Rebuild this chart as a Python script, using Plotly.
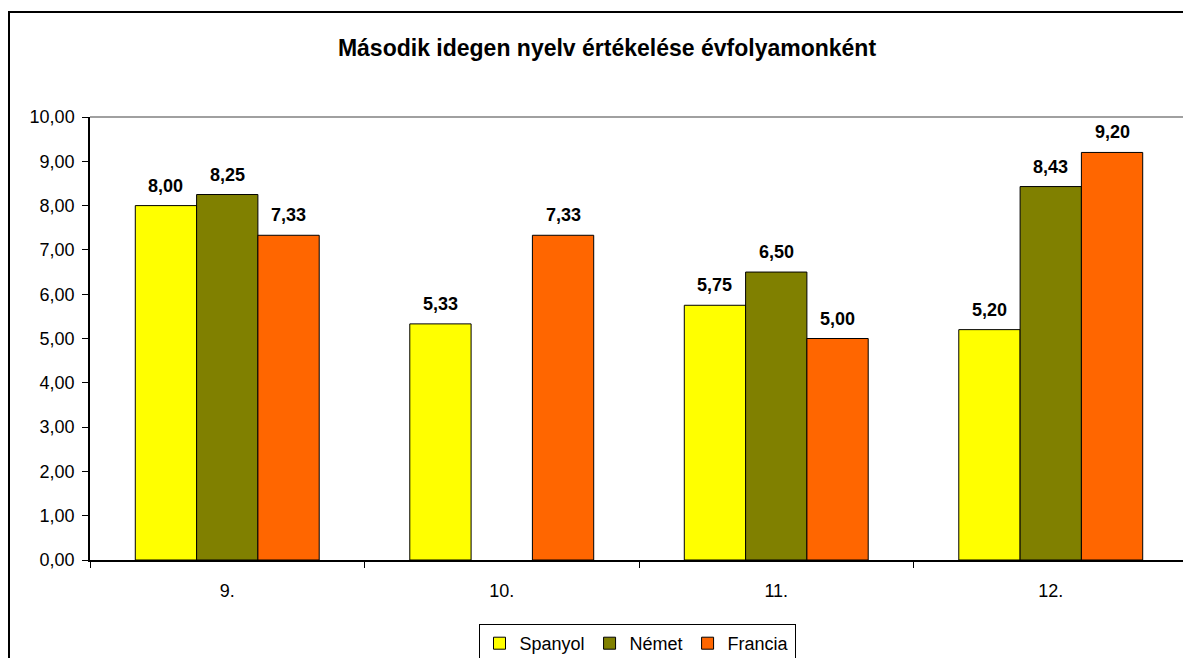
import plotly.graph_objects as go

categories = ['9.', '10.', '11.', '12.']
spanyol = [8.00, 5.33, 5.75, 5.20]
nemet = [8.25, None, 6.50, 8.43]
francia = [7.33, 7.33, 5.00, 9.20]
y_ticks = [0, 1, 2, 3, 4, 5, 6, 7, 8, 9, 10]

FONT = 'Liberation Sans, Arial, sans-serif'
W, H = 1191, 658
OFF = 8  # page body margin
L, R, T, B = 90, 1188, 117, 560  # plot area in page pixels
BARGAP = 0.33

pw, ph = R - L, B - T
barPx = pw / len(categories) * (1 - BARGAP) / 3


def px(x):
    return (x - L) / pw


def py(y):
    return (B - y) / ph


fig = go.Figure()
series = [('Spanyol', spanyol, '#FFFF00'), ('Német', nemet, '#808000'), ('Francia', francia, '#FF6600')]
for i, (name, values, color) in enumerate(series):
    fig.add_trace(go.Bar(
        x=categories, y=values, name=name,
        marker=dict(color=color, line=dict(color='black', width=1)),
    ))
    # data labels; category names look numeric, so place by category index
    for j, v in enumerate(values):
        if v is None:
            continue
        fig.add_annotation(x=j, y=v, text=f'{v:.2f}'.replace('.', ','), showarrow=False,
                           xshift=(i - 1) * barPx, yshift=20, yanchor='middle',
                           font=dict(family=FONT, size=18, color='black', weight='bold'))

# chart outer border and plot area border
fig.add_shape(type='rect', xref='paper', yref='paper',
              x0=px(9), x1=px(1200), y0=py(680), y1=py(12),
              line=dict(color='black', width=2), layer='below')
fig.add_shape(type='line', xref='paper', yref='paper',
              x0=0, x1=1, y0=1, y1=1, line=dict(color='#808080', width=1.5))
fig.add_shape(type='line', xref='paper', yref='paper',
              x0=1, x1=1, y0=0, y1=1, line=dict(color='#808080', width=1.5))

fig.update_layout(
    width=W, height=H,
    margin=dict(l=L - OFF, r=W - (R - OFF), t=T - OFF, b=H - (B - OFF)),
    paper_bgcolor='white', plot_bgcolor='white',
    separators=',.',
    barmode='group', bargap=BARGAP, bargroupgap=0,
    font=dict(family=FONT, size=18, color='black'),
    title=dict(text='Második idegen nyelv értékelése évfolyamonként',
               x=(607 - OFF) / W, xanchor='center', y=1 - (48 - OFF) / H, yanchor='middle',
               font=dict(family=FONT, size=23, color='black', weight='bold')),
    legend=dict(orientation='h', xref='container', yref='container',
                x=(637 - OFF) / W, xanchor='center', y=1 - (624 - OFF) / H, yanchor='top',
                bordercolor='black', borderwidth=1, bgcolor='white',
                font=dict(family=FONT, size=18), itemwidth=30),
    showlegend=True,
)
fig.update_xaxes(type='category', showline=True, linecolor='black', linewidth=1.5,
                 ticks='outside', tickson='boundaries', ticklen=6, tickcolor='black',
                 ticklabelstandoff=14,
                 showgrid=False, tickfont=dict(family=FONT, size=18))
fig.update_yaxes(range=[0, 10], tickvals=y_ticks, tickformat='.2f',
                 showline=True, linecolor='black', linewidth=1.5,
                 ticks='outside', ticklen=6, tickcolor='black', ticklabelstandoff=4,
                 showgrid=False, zeroline=False, tickfont=dict(family=FONT, size=18))

fig.write_html("out.html")
